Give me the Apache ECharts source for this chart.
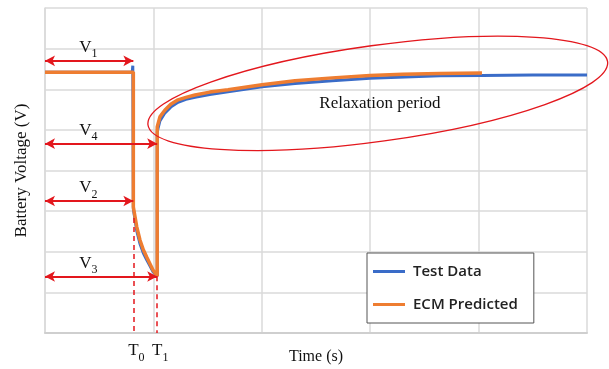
<!DOCTYPE html>
<html>
<head>
<meta charset="utf-8">
<script src="https://cdn.jsdelivr.net/npm/echarts@6/dist/echarts.min.js"></script>
<style>html,body{margin:0;padding:0;background:#fff}#c{width:609px;height:369px}</style>
</head>
<body>
<div id="c"></div>
<script>
// ---- data (time in arbitrary axis units, voltage in axis units) ----
const testX = [0, 0.805, 0.81, 0.815, 0.815, 0.846, 0.876, 0.907, 0.938, 0.969, 0.996, 1.035, 1.035, 1.06, 1.107, 1.16, 1.227, 1.30, 1.384, 1.52, 1.688, 2.002, 2.306, 2.65, 2.998, 3.644, 4.031, 4.5, 5.0];
const testY = [6.42, 6.42, 6.58, 6.58, 3.05, 2.52, 2.20, 1.97, 1.80, 1.65, 1.51, 1.40, 4.95, 5.22, 5.42, 5.56, 5.68, 5.75, 5.80, 5.87, 5.94, 6.06, 6.14, 6.21, 6.27, 6.33, 6.34, 6.35, 6.35];
const ecmX = [0, 0.815, 0.815, 0.846, 0.876, 0.907, 0.938, 0.969, 0.996, 1.035, 1.035, 1.06, 1.107, 1.16, 1.227, 1.30, 1.384, 1.52, 1.688, 2.002, 2.306, 2.65, 2.998, 3.3, 3.644, 4.031];
const ecmY = [6.42, 6.42, 3.10, 2.62, 2.29, 2.05, 1.87, 1.70, 1.55, 1.40, 5.07, 5.32, 5.49, 5.63, 5.74, 5.80, 5.86, 5.93, 5.99, 6.11, 6.21, 6.28, 6.34, 6.37, 6.39, 6.40];
const seriesNames = ['Test Data', 'ECM Predicted'];
const T0 = 0.815, T1 = 1.035;
// voltage markers: name, level, end time
const vMarks = [['1', 6.70, T0], ['4', 4.66, T1], ['2', 3.25, T0], ['3', 1.39, T1]];
const tMarks = [['0', T0, 2.83], ['1', T1, 1.40]];

const RED = '#e3171d';
const serif = '"Liberation Serif", "Times New Roman", serif';
const pair = (xs, ys) => xs.map((x, i) => [x, ys[i]]);

const chart = echarts.init(document.getElementById('c'), null, {renderer: 'canvas'});

const subRich = {
  m: {fontFamily: serif, fontSize: 17, color: '#111', lineHeight: 21, verticalAlign: 'top'},
  s: {fontFamily: serif, fontSize: 12, color: '#111', lineHeight: 21, verticalAlign: 'bottom'}
};

const markLineData = [];
vMarks.forEach(v => markLineData.push([{coord: [0, v[1]]}, {coord: [v[2], v[1]]}]));
const dashData = [];
tMarks.forEach(t => dashData.push([{coord: [t[1], t[2]]}, {coord: [t[1], 0]}]));

const markPoints = [];
vMarks.forEach(v => markPoints.push({coord: [0.4, v[1]], label: {formatter: '{m|V}{s|' + v[0] + '}', offset: [0, -11]}}));
tMarks.forEach(t => markPoints.push({coord: [t[1], 0], label: {formatter: '{m|T}{s|' + t[0] + '}', offset: [3, 20]}}));

chart.setOption({
  animation: false,
  grid: {left: 45, right: 22, top: 8, bottom: 36, outerBoundsMode: 'none', containLabel: false},
  xAxis: {
    type: 'value', min: 0, max: 5, interval: 1,
    name: 'Time (s)', nameLocation: 'middle', nameGap: 16,
    nameTextStyle: {fontFamily: serif, fontSize: 16, color: '#111'},
    axisLabel: {show: false}, axisTick: {show: false},
    axisLine: {show: true, lineStyle: {color: '#cfcfcf', width: 2}},
    splitLine: {show: true, lineStyle: {color: '#dadada', width: 1.5}}
  },
  yAxis: {
    type: 'value', min: 0, max: 8, interval: 1,
    name: 'Battery Voltage (V)', nameLocation: 'middle', nameGap: 15,
    nameTextStyle: {fontFamily: serif, fontSize: 17, color: '#111'},
    axisLabel: {show: false}, axisTick: {show: false},
    axisLine: {show: true, lineStyle: {color: '#dadada', width: 1.5}},
    splitLine: {show: true, lineStyle: {color: '#dadada', width: 1.5}}
  },
  legend: {
    data: seriesNames, orient: 'vertical', left: 367, top: 253,
    icon: 'rect', itemWidth: 32, itemHeight: 3, itemGap: 18,
    padding: [11, 16, 11, 6],
    borderColor: '#555', borderWidth: 1, backgroundColor: '#fff',
    textStyle: {fontFamily: '"Open Sans", sans-serif', fontSize: 15, fontWeight: 600, color: '#222', padding: [0, 0, 0, 3]}
  },
  series: [
    {name: seriesNames[0], type: 'line', data: pair(testX, testY), showSymbol: false, z: 2,
     lineStyle: {color: '#3a6cc8', width: 3}, itemStyle: {color: '#3a6cc8'}},
    {name: seriesNames[1], type: 'line', data: pair(ecmX, ecmY), showSymbol: false, z: 3,
     lineStyle: {color: '#ee7d31', width: 3.5}, itemStyle: {color: '#ee7d31'}},
    {name: 'annot', type: 'line', data: [], z: 5, silent: true,
     markLine: {
       silent: true, symbol: ['arrow', 'arrow'], symbolSize: [8, 10],
       lineStyle: {color: RED, width: 2, type: 'solid'}, label: {show: false},
       data: markLineData
     },
     markPoint: {
       silent: true, symbol: 'circle', symbolSize: 0,
       label: {show: true, position: 'inside', rich: subRich},
       data: markPoints
     }},
    {name: 'annot2', type: 'line', data: [], z: 5, silent: true,
     markLine: {
       silent: true, symbol: ['none', 'none'],
       lineStyle: {color: RED, width: 1.5, type: [5, 4]}, label: {show: false},
       data: dashData
     }}
  ]
});

// ellipse around the relaxation period + its text, placed through the axes
const c = chart.convertToPixel({gridIndex: 0}, [3.07, 5.90]);
const e = chart.convertToPixel({gridIndex: 0}, [5.21, 5.90]);
const t = chart.convertToPixel({gridIndex: 0}, [3.09, 5.65]);
chart.setOption({
  graphic: [
    {type: 'ellipse', x: c[0], y: c[1], rotation: 0.137, z: 10,
     shape: {cx: 0, cy: 0, rx: e[0] - c[0], ry: 48},
     style: {fill: 'none', stroke: RED, lineWidth: 1.3}},
    {type: 'text', x: t[0], y: t[1], z: 10,
     style: {text: 'Relaxation period', font: '17px ' + serif, fill: '#111', textAlign: 'center', textVerticalAlign: 'middle'}}
  ]
});
</script>
</body>
</html>
